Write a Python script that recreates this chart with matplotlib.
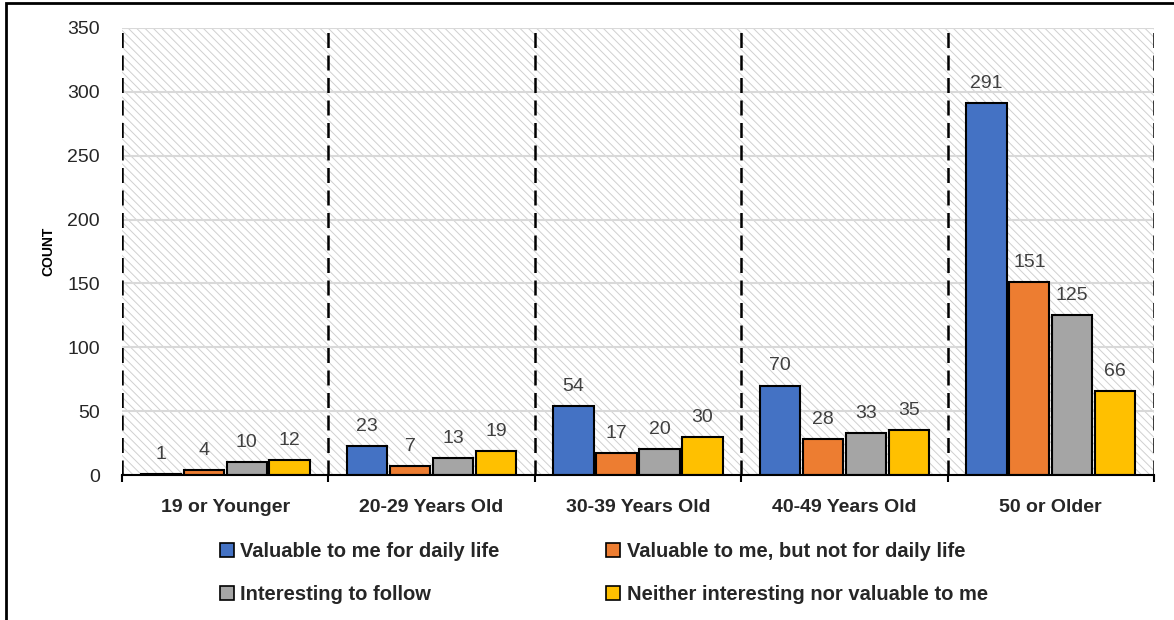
import matplotlib
matplotlib.use("Agg")
from matplotlib import pyplot as plt
from matplotlib.patches import Rectangle, Patch
import numpy as np

plt.rcParams['font.family'] = ['Liberation Sans', 'DejaVu Sans']
plt.rcParams['hatch.linewidth'] = 0.7

groups = ["19 or Younger", "20-29 Years Old", "30-39 Years Old", "40-49 Years Old", "50 or Older"]
series = ["Valuable to me for daily life", "Valuable to me, but not for daily life",
          "Interesting to follow", "Neither interesting nor valuable to me"]
daily = [1, 23, 54, 70, 291]
not_daily = [4, 7, 17, 28, 151]
interesting = [10, 13, 20, 33, 125]
neither = [12, 19, 30, 35, 66]
colors = ["#4472C4", "#ED7D31", "#A5A5A5", "#FFC000"]

fig = plt.figure(figsize=(11.74, 6.2), dpi=100)
ax = fig.add_axes([122/1174, 1 - 475/620, 1032/1174, 447/620])

# hatched plot background
ax.patch.set_facecolor("white")
ax.add_patch(Rectangle((0, 0), 1, 1, transform=ax.transAxes, facecolor="white",
                       edgecolor="#d0d0d0", hatch="\\\\\\\\", lw=0, zorder=0))

x = np.arange(len(groups))
w = 0.195
step = 0.208
for i, (vals, col) in enumerate(zip([daily, not_daily, interesting, neither], colors)):
    pos = x + (i - 1.5) * step
    bars = ax.bar(pos, vals, w, color=col, edgecolor="black", linewidth=1.5, zorder=3)
    for b, v in zip(bars, vals):
        ax.annotate(str(v), (b.get_x() + b.get_width()/2, v), xytext=(0, 8),
                    textcoords="offset points", ha="center", va="bottom",
                    fontsize=14, color="#404040", zorder=4)

ax.set_xlim(-0.5, 4.5)
ax.set_ylim(0, 350)
ax.set_yticks(range(0, 351, 50))
ax.yaxis.grid(True, color="#d9d9d9", linewidth=1.5, zorder=1)
ax.set_axisbelow(True)

for b in np.arange(-0.5, 5, 1):
    ax.axvline(b, color="black", linestyle=(0, (6, 3)), linewidth=1.8, zorder=2)

for s in ["top", "right", "left"]:
    ax.spines[s].set_visible(False)
ax.spines["bottom"].set_linewidth(1.5)
ax.spines["bottom"].set_zorder(5)

ax.set_xticks(x)
ax.set_xticklabels(groups, fontsize=14, fontweight="bold", color="#262626")
ax.set_xticks(np.arange(-0.5, 5, 1), minor=True)
ax.tick_params(axis="x", which="major", length=0, pad=17)
ax.tick_params(axis="x", which="minor", length=5, width=1.5, direction="out")
ax.tick_params(axis="y", length=0, pad=16, labelsize=14, labelcolor="#262626")
ax.set_ylabel("COUNT", fontsize=10, fontweight="bold")
ax.yaxis.set_label_coords(-67/1032, 0.5)

handles = [Patch(facecolor=c, edgecolor="black", linewidth=1.2) for c in colors]
order = [0, 2, 1, 3]
fig.legend([handles[i] for i in order], [series[i] for i in order], ncol=2,
           loc="upper left", bbox_to_anchor=(202/1174, 1 - 524/620), frameon=False,
           prop={"size": 14.5, "weight": "bold"}, handlelength=0.7, handleheight=0.7,
           handletextpad=0.3, labelspacing=1.2, columnspacing=5.3, labelcolor="#262626")

# outer frame
fig.add_artist(Rectangle((6/1174, -0.1), 1.2, 1 - 3/620 + 0.1, transform=fig.transFigure,
                         fill=False, edgecolor="black", linewidth=2))

fig.savefig("out.png", dpi=100)
